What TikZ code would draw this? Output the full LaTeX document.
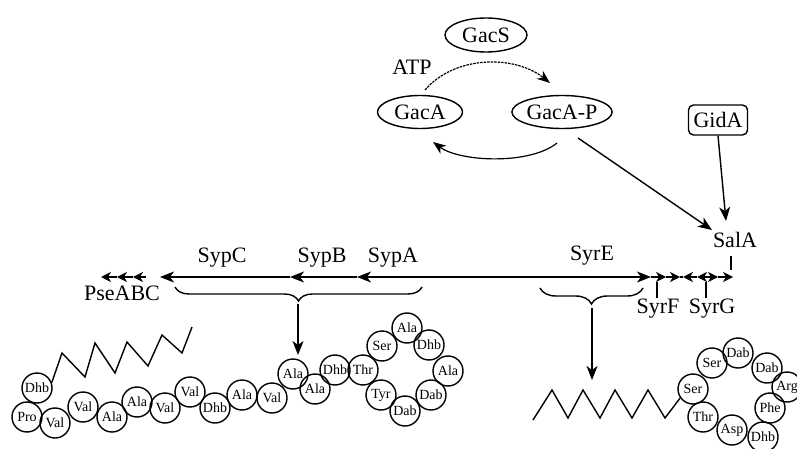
\documentclass[tikz,border=0pt]{standalone}
\usepackage{fontspec}
\setmainfont{Liberation Serif}
\usetikzlibrary{shapes.geometric,arrows.meta,decorations.pathreplacing}
\begin{document}
\begin{tikzpicture}[x=1pt,y=-1pt,
  lbl/.style={font=\fontsize{22}{24}\selectfont, inner sep=1pt},
  ell/.style={ellipse, draw, line width=1.4pt, inner sep=0pt, font=\fontsize{22}{24}\selectfont},
  aa/.style={circle, draw, line width=1.4pt, minimum size=30pt, inner sep=0pt, font=\fontsize{14}{15}\selectfont},
  arr/.style={line width=1.4pt, -{Stealth[length=14pt,width=11pt,inset=4pt]}},
  sarr/.style={line width=1.4pt, -{Stealth[length=10pt,width=10pt,inset=3pt]}},
  thin/.style={line width=1.4pt},
  brc/.style={line width=1.4pt, decorate, decoration={brace, mirror, amplitude=14pt}},
]
\clip (0,0) rectangle (797,449);
\fill[white] (0,0) rectangle (797,449);

% --- regulation part ---
\node[ell, minimum width=82pt, minimum height=34pt] (GacS) at (486,35) {GacS};
\node[ell, minimum width=85pt, minimum height=33pt] (GacA) at (420,112) {GacA};
\node[ell, minimum width=90pt, minimum height=33pt] (GacAP) at (562,112) {GacA-P};
\node[lbl] (ATP) at (412,67) {ATP};
\node[draw, rounded corners=5pt, line width=1.4pt, minimum width=59pt, minimum height=30pt, inner sep=0pt, font=\fontsize{22}{24}\selectfont] (GidA) at (718,120) {GidA};
\node[lbl] (SalA) at (735,240) {SalA};

\coordinate (u1) at (425,90);
\coordinate (u2) at (550,83);
\coordinate (l1) at (557,143);
\coordinate (l2) at (433,142);
\draw[line width=1.2pt, dash pattern=on 2.5pt off 1pt, -{Stealth[length=13pt,width=10pt,inset=4pt]}] (u1) .. controls (455,55) and (515,55) .. (u2);
\draw[line width=1.2pt, -{Stealth[length=13pt,width=10pt,inset=4pt]}] (l1) .. controls (530,165) and (460,162) .. (l2);

\coordinate (pA) at (578,138);
\coordinate (pB) at (712,230);
\draw[arr] (pA) -- (pB);
\coordinate (gB) at (726,221);
\draw[arr] (GidA.south) -- (gB);

% --- gene cluster line ---
\coordinate (sA) at (420,277);
\coordinate (tA) at (357,277);
\coordinate (tB) at (290,277);
\coordinate (tC) at (160,277);
\coordinate (q0) at (146,277);
\coordinate (q1) at (133,277);
\coordinate (q2) at (117,277);
\coordinate (q3) at (101,277);
\draw[arr] (sA) -- (tA);
\draw[arr] (tA) -- (tB);
\draw[arr] (tB) -- (tC);
\draw[sarr] (q0) -- (q1);
\draw[sarr] (q1) -- (q2);
\draw[sarr] (q2) -- (q3);

\coordinate (tE) at (651,277);
\coordinate (f1) at (666,277);
\coordinate (f2) at (680,277);
\coordinate (g1) at (683,277);
\coordinate (g2) at (697,277);
\coordinate (gm) at (707,277);
\coordinate (h1) at (718,277);
\coordinate (h2) at (733,277);
\draw[arr] (sA) -- (tE);
\draw[sarr] (tE) -- (f1);
\draw[sarr] (f1) -- (f2);
\draw[thin] (f2) -- (g1);
\draw[sarr] (g2) -- (g1);
\draw[sarr] (gm) -- (g2);
\draw[sarr] (gm) -- (h1);
\draw[sarr] (h1) -- (h2);

\node[lbl] (SypC) at (222,258) {SypC};
\node[lbl] (SypB) at (322,258) {SypB};
\node[lbl] (SypA) at (393,258) {SypA};
\node[lbl] (Pse) at (122,293) {PseABC};
\node[lbl] (SyrE) at (592,256) {SyrE};
\node[lbl] (SyrF) at (658,309) {SyrF};
\node[lbl] (SyrG) at (712,309) {SyrG};

\coordinate (k1a) at (731,256);
\coordinate (k1b) at (731,270);
\draw[line width=1.2pt] (k1a) -- (k1b);
\coordinate (k2a) at (657,282);
\coordinate (k2b) at (657,298);
\draw[line width=1.2pt] (k2a) -- (k2b);
\coordinate (k3a) at (706,282);
\coordinate (k3b) at (706,298);
\draw[line width=1.2pt] (k3a) -- (k3b);

% braces
\coordinate (b1a) at (175,287);
\coordinate (b1b) at (422,287);
\draw[brc] (b1a) -- (b1b);
\coordinate (b2a) at (540,288);
\coordinate (b2b) at (643,288);
\draw[brc, decoration={amplitude=16pt}] (b2a) -- (b2b);
\coordinate (m1) at (298,304);
\coordinate (m1e) at (298,355);
\draw[arr] (m1) -- (m1e);
\coordinate (m2) at (592,308);
\coordinate (m2e) at (592,380);
\draw[arr] (m2) -- (m2e);

% --- left peptide ---
\node[aa] (c1) at (37,388) {Dhb};
\node[aa] (c2) at (27,417) {Pro};
\node[aa] (c3) at (55,423) {Val};
\node[aa] (c4) at (83,407) {Val};
\node[aa] (c5) at (112,417) {Ala};
\node[aa] (c6) at (137,402) {Ala};
\node[aa] (c7) at (165,408) {Val};
\node[aa] (c8) at (190,392) {Val};
\node[aa] (c9) at (215,408) {Dhb};
\node[aa] (c10) at (242,395) {Ala};
\node[aa] (c11) at (272,398) {Val};
\node[aa] (c12) at (293,374) {Ala};
\node[aa] (c13) at (315,389) {Ala};
\node[aa] (c14) at (335,370) {Dhb};
\node[aa] (c15) at (363,370) {Thr};
\node[aa] (c16) at (382,346) {Ser};
\node[aa] (c17) at (407,328) {Ala};
\node[aa] (c18) at (429,345) {Dhb};
\node[aa] (c19) at (448,371) {Ala};
\node[aa] (c20) at (431,395) {Dab};
\node[aa] (c21) at (405,411) {Dab};
\node[aa] (c22) at (381,395) {Tyr};

\draw[line width=1.4pt] (c1.20) -- (62,353) -- (85,377) -- (95,343) -- (115,373) -- (127,342) -- (148,366) -- (162,335) -- (182,353) -- (192,327);

% --- right peptide ---
\node[aa] (r1) at (693,389) {Ser};
\node[aa] (r2) at (712,363) {Ser};
\node[aa] (r3) at (738,353) {Dab};
\node[aa] (r4) at (767,368) {Dab};
\node[aa] (r5) at (787,387) {Arg};
\node[aa] (r6) at (770,408) {Phe};
\node[aa] (r7) at (763,437) {Dhb};
\node[aa] (r8) at (732,430) {Asp};
\node[aa] (r9) at (703,417) {Thr};

\draw[line width=1.4pt] (533,420) -- (552,390) -- (568,418) -- (583,390) -- (600,418) -- (615,390) -- (632,418) -- (648,390) -- (665,418) -- (r1.215);
\end{tikzpicture}
\end{document}
